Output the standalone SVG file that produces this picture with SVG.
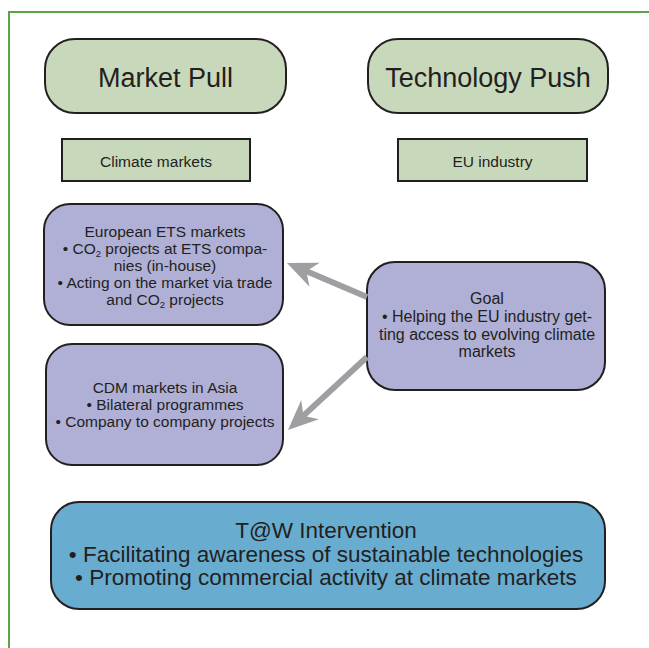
<svg xmlns="http://www.w3.org/2000/svg" width="649" height="648" viewBox="0 0 649 648">
  <style>
    .box { stroke: #231f20; stroke-width: 2; }
    .green { fill: #c8d8bb; }
    .purple { fill: #b0b0d6; }
    .blue { fill: #68acd0; }
    text { font-family: "Liberation Sans", Arial, sans-serif; fill: #231f20; text-anchor: middle; }
    .big { font-size: 27px; }
    .mid { font-size: 15.5px; }
    .small { font-size: 15.5px; }
    .goal { font-size: 16px; }
    .large { font-size: 22.5px; }
    .conn { stroke: #9d9fa2; stroke-width: 6; fill: none; }
  </style>
  <defs>
    <marker id="arrow" viewBox="-32 -15 34 30" markerWidth="34" markerHeight="30" refX="-20" refY="0" orient="auto" markerUnits="userSpaceOnUse">
      <path d="M 0 0 L -30 -13 L -21 0 L -30 13 Z" fill="#9d9fa2"/>
    </marker>
  </defs>
  <rect width="649" height="648" fill="#ffffff"/>
  <polyline points="9,648 9,12 649,12" fill="none" stroke="#5ba445" stroke-width="2"/>

  <g id="market-pull">
    <rect class="box green" x="45" y="39" width="241" height="74" rx="30" ry="30"/>
    <text class="big" x="165.5" y="87">Market Pull</text>
  </g>
  <g id="technology-push">
    <rect class="box green" x="368" y="39" width="240" height="74" rx="30" ry="30"/>
    <text class="big" x="488" y="87">Technology Push</text>
  </g>
  <g id="climate-markets">
    <rect class="box green" x="62" y="139" width="188" height="42"/>
    <text class="mid" x="156" y="167">Climate markets</text>
  </g>
  <g id="eu-industry">
    <rect class="box green" x="398" y="139" width="189" height="42"/>
    <text class="mid" x="492.5" y="167">EU industry</text>
  </g>
  <g id="european-ets">
    <rect class="box purple" x="44" y="204" width="239" height="121" rx="26" ry="26"/>
    <text class="small" x="165" y="237">European ETS markets</text>
    <text class="small" x="165" y="254">• CO<tspan font-size="9.5" dy="3">2</tspan><tspan dy="-3"> projects at ETS compa-</tspan></text>
    <text class="small" x="165" y="271">nies (in-house)</text>
    <text class="small" x="165" y="288">• Acting on the market via trade</text>
    <text class="small" x="165" y="305">and CO<tspan font-size="9.5" dy="3">2</tspan><tspan dy="-3"> projects</tspan></text>
  </g>
  <g id="cdm-markets">
    <rect class="box purple" x="46" y="344" width="237" height="121" rx="26" ry="26"/>
    <text class="small" x="165" y="393">CDM markets in Asia</text>
    <text class="small" x="165" y="410">• Bilateral programmes</text>
    <text class="small" x="165" y="427">• Company to company projects</text>
  </g>
  <g id="goal">
    <rect class="box purple" x="367" y="262" width="238" height="128" rx="28" ry="28"/>
    <text class="goal" x="487" y="304">Goal</text>
    <text class="goal" x="487" y="322">• Helping the EU industry get-</text>
    <text class="goal" x="487" y="340">ting access to evolving climate</text>
    <text class="goal" x="487" y="357">markets</text>
  </g>
  <g id="taw-intervention">
    <rect class="box blue" x="51" y="502" width="554" height="107" rx="28" ry="28"/>
    <text class="large" x="326" y="538">T@W Intervention</text>
    <text class="large" x="326" y="562">• Facilitating awareness of sustainable technologies</text>
    <text class="large" x="326" y="585">• Promoting commercial activity at climate markets</text>
  </g>

  <g id="connectors">
    <line class="conn" x1="367" y1="297" x2="305.4" y2="270.8" marker-end="url(#arrow)"/>
    <line class="conn" x1="367" y1="357" x2="302.7" y2="416.4" marker-end="url(#arrow)"/>
  </g>
</svg>
